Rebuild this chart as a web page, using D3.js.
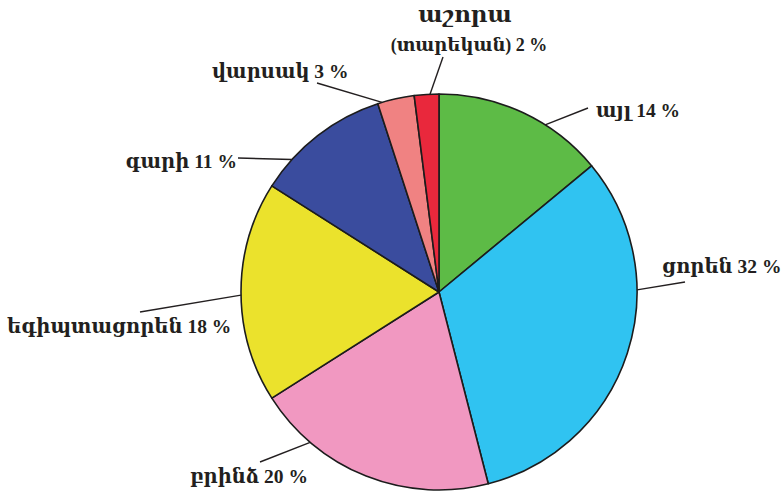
<!DOCTYPE html>
<html>
<head>
<meta charset="utf-8">
<script src="https://cdn.jsdelivr.net/npm/d3@7"></script>
<style>
html,body{margin:0;padding:0;background:#fff;}
svg{display:block;}
text{font-family:"Liberation Serif","DejaVu Serif",serif;font-weight:bold;fill:#231f20;}
</style>
</head>
<body>
<svg id="chart" width="784" height="498"></svg>
<script>
// Data (clockwise from 12 o'clock)
const categories = ["այլ", "ցորեն", "բրինձ", "եգիպտացորեն", "գարի", "վարսակ", "աշորա"];
const values = [14, 32, 20, 18, 11, 3, 2];
const labelTexts = ["այլ 14 %", "ցորեն 32 %", "բրինձ 20 %", "եգիպտացորեն 18 %", "գարի 11 %", "վարսակ 3 %", ["աշորա", "(տարեկան) 2 %"]];
const colors = ["#5dbb46", "#30c3f1", "#f198c1", "#ebe22c", "#3a4c9e", "#f08282", "#e9283c"];

// Layout (positions only)
const cx = 439, cy = 292, R = 198;
const leaderAngle = [32.4, 89.4, 220.6, 269.1, 312, 343.3, 357.4];
const leaderEnd = [[588,108],[685,282],[260,462],[140,312],[238,158],[317,83],[443,57]];
const labelPos = [[596,117,"start"],[662,273,"start"],[190,483,"start"],[7,333,"start"],[237,168,"end"],[212,78,"start"],[465,22,"middle"]];

const svg = d3.select("#chart");
const g = svg.append("g").attr("transform", `translate(${cx},${cy})`);

const pie = d3.pie().sort(null).value(d => d)(values);
const arc = d3.arc().innerRadius(0).outerRadius(R);

g.selectAll("path.slice").data(pie).join("path")
  .attr("class","slice")
  .attr("d", arc)
  .attr("fill", (d,i) => colors[i])
  .attr("stroke", "#1c1c1c")
  .attr("stroke-width", 1.6)
  .attr("stroke-linejoin","round");

// leader lines
const rad = a => a * Math.PI / 180;
svg.selectAll("line.leader").data(categories).join("line")
  .attr("class","leader")
  .attr("x1", (d,i) => cx + R * Math.sin(rad(leaderAngle[i])))
  .attr("y1", (d,i) => cy - R * Math.cos(rad(leaderAngle[i])))
  .attr("x2", (d,i) => leaderEnd[i][0])
  .attr("y2", (d,i) => leaderEnd[i][1])
  .attr("stroke", "#231f20")
  .attr("stroke-width", 1.4);

// labels
categories.forEach((c,i) => {
  const t = labelTexts[i];
  const [x,y,anchor] = labelPos[i];
  if (Array.isArray(t)) {
    svg.append("text").attr("x", x).attr("y", y).attr("text-anchor", anchor)
      .attr("font-size", 23).text(t[0]);
    svg.append("text").attr("x", 469).attr("y", 51).attr("text-anchor", anchor)
      .attr("font-size", 18).text(t[1]);
  } else {
    svg.append("text").attr("x", x).attr("y", y).attr("text-anchor", anchor)
      .attr("font-size", 19.5).text(t);
  }
});
</script>
</body>
</html>
